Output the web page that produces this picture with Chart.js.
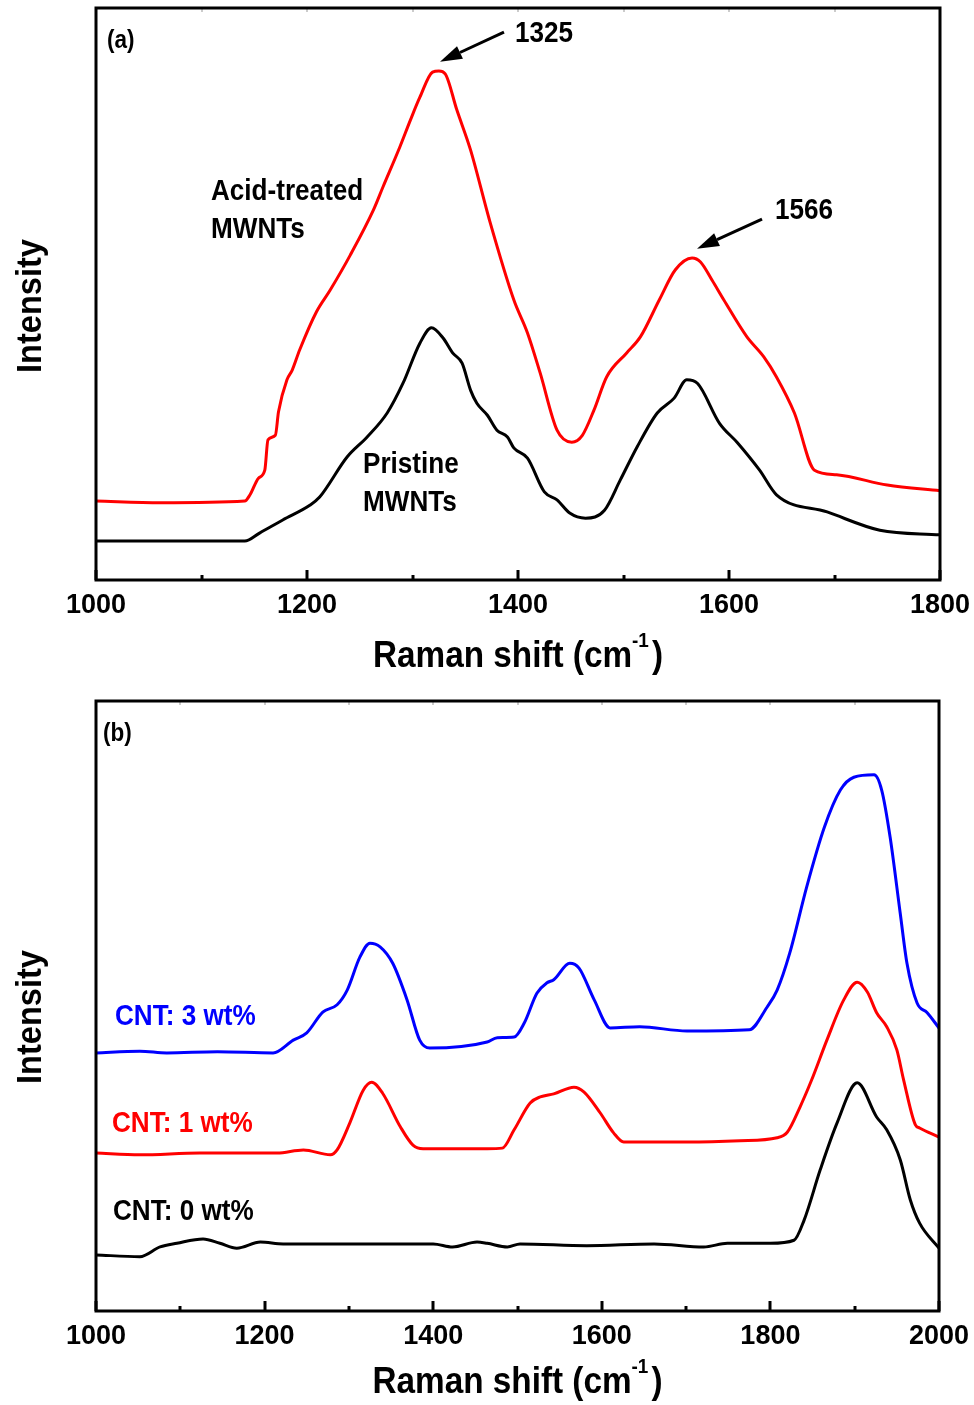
<!DOCTYPE html>
<html>
<head>
<meta charset="utf-8">
<title>Raman spectra</title>
<script src="https://cdn.jsdelivr.net/npm/chart.js@4.4.1/dist/chart.umd.min.js"></script>
<style>
    html, body { margin: 0; padding: 0; background: #fff; }
    #wrap { position: relative; width: 974px; height: 1405px; }
    canvas { position: absolute; left: 0; }
    #chartA { top: 0; }
    #chartB { top: 680px; }
</style>
</head>
<body>
<div id="wrap">
    <canvas id="chartA" width="974" height="680"></canvas>
    <canvas id="chartB" width="974" height="725"></canvas>
</div>
<script>
// ---- panel (a): MWNTs, Raman shift (cm-1) vs intensity (arb. units, 0-100 of the frame)
const aAcidX = [1000, 1061, 1141, 1146, 1154, 1160, 1163, 1170, 1173, 1181, 1186, 1193, 1209, 1222, 1241, 1263, 1272, 1288, 1298, 1307,
    1319, 1325, 1331, 1342, 1355, 1373, 1396, 1409, 1421, 1437, 1451, 1461, 1472, 1484, 1503, 1516, 1534, 1549, 1565, 1573,
    1584, 1595, 1617, 1633, 1645, 1662, 1681, 1702, 1750, 1800];
const aAcidY = [13.8, 13.5, 13.8, 14.9, 17.8, 19.2, 24.5, 25.3, 29.4, 35.0, 36.7, 40.2, 46.9, 50.7, 56.8, 64.7, 68.7, 75.7, 80.4, 84.4,
    88.8, 89.0, 88.5, 82.2, 75.2, 62.9, 49.0, 43.2, 36.2, 26.2, 24.1, 25.3, 29.7, 35.5, 39.7, 42.5, 49.0, 54.2, 56.3, 55.6,
    52.4, 49.0, 42.5, 39.0, 35.5, 29.2, 19.2, 18.4, 16.6, 15.6];

const aPristineX = [1000, 1141, 1155, 1177, 1203, 1212, 1238, 1257, 1276, 1291, 1307, 1318, 1329, 1338, 1347, 1355, 1361, 1371, 1380, 1390,
    1396, 1409, 1425, 1437, 1449, 1464, 1482, 1497, 1513, 1532, 1548, 1560, 1570, 1591, 1608, 1629, 1645, 1693, 1743, 1800];
const aPristineY = [6.8, 6.8, 8.2, 10.5, 13.1, 14.5, 21.5, 25.0, 29.2, 34.4, 41.4, 44.1, 42.3, 39.7, 37.9, 33.2, 30.9, 28.8, 26.2, 25.0,
    23.1, 21.3, 15.4, 14.0, 11.7, 10.8, 12.2, 17.5, 23.3, 29.2, 31.8, 35.0, 34.4, 27.4, 24.0, 19.2, 14.9, 11.9, 8.7, 7.9];

// ---- panel (b): composites with 0 / 1 / 3 wt% CNT
const bCnt3X = [1000, 1052, 1084, 1144, 1210, 1234, 1250, 1269, 1286, 1298, 1313, 1325, 1337, 1352, 1369, 1384, 1396, 1464, 1476, 1496,
    1508, 1523, 1535, 1543, 1562, 1573, 1591, 1610, 1645, 1701, 1775, 1796, 1808, 1823, 1843, 1864, 1883, 1899, 1923, 1932,
    1942, 1954, 1962, 1974, 1986, 2000];
const bCnt3Y = [42.3, 42.6, 42.3, 42.5, 42.3, 44.4, 45.6, 49.0, 50.2, 52.6, 58.0, 60.3, 59.7, 57.0, 51.0, 44.4, 43.1, 44.1, 44.8, 44.9,
    47.2, 52.1, 53.8, 54.3, 57.0, 56.2, 51.0, 46.4, 46.6, 45.9, 46.1, 49.8, 52.6, 58.7, 69.5, 79.3, 85.4, 87.5, 87.9, 85.4,
    77.7, 65.2, 57.0, 50.5, 48.9, 46.4];

const bCnt1X = [1000, 1052, 1123, 1215, 1246, 1278, 1286, 1301, 1317, 1327, 1340, 1361, 1376, 1388, 1464, 1482, 1496, 1515, 1527, 1543,
    1567, 1579, 1598, 1614, 1626, 1701, 1764, 1808, 1820, 1835, 1849, 1867, 1887, 1903, 1915, 1926, 1938, 1950, 1958, 1972,
    1977, 2000];
const bCnt1Y = [25.9, 25.6, 25.9, 25.9, 26.4, 25.6, 26.4, 30.8, 36.2, 37.5, 35.7, 30.2, 27.2, 26.6, 26.6, 26.7, 29.7, 34.1, 35.1, 35.6,
    36.7, 35.9, 32.5, 29.2, 27.7, 27.7, 27.9, 28.4, 29.3, 33.4, 37.9, 44.4, 51.0, 53.9, 52.3, 48.9, 46.6, 42.8, 37.9, 30.5,
    30.0, 28.5];

const bCnt0X = [1000, 1052, 1076, 1096, 1127, 1147, 1167, 1195, 1222, 1281, 1400, 1423, 1452, 1464, 1488, 1503, 1582, 1662, 1721, 1749,
    1800, 1828, 1840, 1859, 1879, 1903, 1926, 1938, 1954, 1966, 1977, 2000];
const bCnt0Y = [9.2, 8.9, 10.5, 11.1, 11.8, 11.1, 10.3, 11.3, 11.0, 11.0, 11.0, 10.5, 11.3, 11.1, 10.5, 11.0, 10.7, 11.0, 10.5, 11.1,
    11.1, 11.6, 14.9, 23.1, 30.8, 37.4, 31.8, 29.7, 24.8, 18.2, 14.4, 10.3];

const FONT = '"Liberation Sans", Arial, Helvetica, sans-serif';

function toPoints(xs, ys) {
    return xs.map((x, i) => ({ x: x, y: ys[i] }));
}

function line(label, xs, ys, color) {
    return {
        label: label,
        data: toPoints(xs, ys),
        borderColor: color,
        borderWidth: 3,
        pointRadius: 0,
        fill: false,
        cubicInterpolationMode: 'monotone',
        borderJoinStyle: 'round',
        borderCapStyle: 'round'
    };
}

function measure(ctx, text, size) {
    ctx.save();
    ctx.font = 'bold ' + size + 'px ' + FONT;
    const w = ctx.measureText(text).width;
    ctx.restore();
    return w;
}

// narrow-ish bold text: the figure uses a condensed Arial
function narrowText(ctx, text, x, y, size, sx) {
    ctx.save();
    ctx.font = 'bold ' + size + 'px ' + FONT;
    ctx.translate(x, y);
    ctx.scale(sx, 1);
    ctx.fillText(text, 0, 0);
    ctx.restore();
}

// frame, inward ticks, axis titles and annotations
const panelDecor = {
    id: 'panelDecor',
    afterDraw(chart, args, o) {
        const ctx = chart.ctx;
        const a = chart.chartArea;
        const xs = chart.scales.x;
        const ys = chart.scales.y;
        ctx.save();

        for (let v = xs.min; v <= xs.max; v += o.minorStep) {
            const px = Math.round(xs.getPixelForValue(v));
            const major = (v - xs.min) % o.majorStep === 0;
            ctx.strokeStyle = '#000';
            ctx.lineWidth = 3;
            ctx.beginPath();
            ctx.moveTo(px, a.bottom);
            ctx.lineTo(px, a.bottom - (major ? 10 : 5));
            ctx.stroke();
            ctx.strokeStyle = '#999';
            ctx.lineWidth = 1;
            ctx.beginPath();
            ctx.moveTo(px, a.top);
            ctx.lineTo(px, a.top + 4);
            ctx.stroke();
        }

        ctx.strokeStyle = '#000';
        ctx.lineWidth = 3;
        ctx.strokeRect(a.left, a.top, a.right - a.left, a.bottom - a.top);

        ctx.fillStyle = '#000';
        ctx.textAlign = 'left';
        ctx.textBaseline = 'alphabetic';

        // y title (rotated)
        ctx.save();
        ctx.translate(o.yTitle[0], o.yTitle[1]);
        ctx.rotate(-Math.PI / 2);
        ctx.scale(0.93, 1);
        ctx.font = 'bold 35px ' + FONT;
        ctx.textAlign = 'center';
        ctx.textBaseline = 'middle';
        ctx.fillText('Intensity', 0, 0);
        ctx.restore();

        // x title with superscript
        const sx = 0.9;
        const main = 'Raman shift (cm', sup = '-1', close = ')';
        const w1 = sx * measure(ctx, main, 37);
        const w2 = sx * measure(ctx, sup, 21) + 3;
        const w3 = sx * measure(ctx, close, 37);
        const x0 = (a.left + a.right) / 2 - (w1 + w2 + w3) / 2;
        narrowText(ctx, main, x0, o.xTitleY, 37, sx);
        narrowText(ctx, sup, x0 + w1, o.xTitleY - 20, 21, sx);
        narrowText(ctx, close, x0 + w1 + w2, o.xTitleY, 37, sx);

        // text labels
        (o.labels || []).forEach(l => {
            ctx.fillStyle = l.color || '#000';
            narrowText(ctx, l.text, l.x, l.y, l.size || 29, 0.9);
        });

        // arrows, placed in data coordinates
        ctx.fillStyle = '#000';
        ctx.strokeStyle = '#000';
        (o.arrows || []).forEach(ar => {
            const x1 = xs.getPixelForValue(ar.from[0]), y1 = ys.getPixelForValue(ar.from[1]);
            const x2 = xs.getPixelForValue(ar.to[0]), y2 = ys.getPixelForValue(ar.to[1]);
            const ang = Math.atan2(y2 - y1, x2 - x1);
            const head = 22, half = 7;
            const bx = x2 - head * Math.cos(ang), by = y2 - head * Math.sin(ang);
            ctx.lineWidth = 3;
            ctx.beginPath();
            ctx.moveTo(x1, y1);
            ctx.lineTo(bx, by);
            ctx.stroke();
            ctx.beginPath();
            ctx.moveTo(x2, y2);
            ctx.lineTo(bx + half * Math.sin(ang), by - half * Math.cos(ang));
            ctx.lineTo(bx - half * Math.sin(ang), by + half * Math.cos(ang));
            ctx.closePath();
            ctx.fill();
        });

        ctx.restore();
    }
};

function makeOptions(cfg) {
    return {
        responsive: false,
        animation: false,
        layout: { padding: { top: cfg.padTop, right: cfg.padRight, left: 0, bottom: 0 } },
        plugins: {
            legend: { display: false },
            tooltip: { enabled: false },
            panelDecor: cfg.decor
        },
        scales: {
            x: {
                type: 'linear',
                min: cfg.xMin,
                max: cfg.xMax,
                ticks: {
                    stepSize: 200,
                    autoSkip: false,
                    maxRotation: 0,
                    padding: 9,
                    color: '#000',
                    font: { family: FONT, size: 27, weight: 'bold' },
                    callback: (v) => String(v)
                },
                grid: { display: false, drawTicks: false },
                border: { display: false },
                afterFit(s) {
                    s.height = cfg.xHeight;
                    s.paddingLeft = 0;
                    s.paddingRight = 0;
                }
            },
            y: {
                min: 0,
                max: 100,
                ticks: { display: false },
                grid: { display: false, drawTicks: false },
                border: { display: false },
                afterFit(s) { s.width = 96; }
            }
        }
    };
}

new Chart(document.getElementById('chartA'), {
    type: 'line',
    plugins: [panelDecor],
    data: {
        datasets: [
            line('Pristine MWNTs', aPristineX, aPristineY, '#000000'),
            line('Acid-treated MWNTs', aAcidX, aAcidY, '#ff0000')
        ]
    },
    options: makeOptions({
        padTop: 8, padRight: 34, xHeight: 100, xMin: 1000, xMax: 1800,
        decor: {
            minorStep: 100, majorStep: 200,
            yTitle: [31, 306], xTitleY: 667,
            labels: [
                { text: '(a)', x: 107, y: 48, size: 25 },
                { text: '1325', x: 515, y: 42 },
                { text: '1566', x: 775, y: 219 },
                { text: 'Acid-treated', x: 211, y: 200 },
                { text: 'MWNTs', x: 211, y: 238 },
                { text: 'Pristine', x: 363, y: 473 },
                { text: 'MWNTs', x: 363, y: 511 }
            ],
            arrows: [
                { from: [1386.7, 95.8], to: [1326.1, 90.6] },
                { from: [1631.3, 63.1], to: [1569.7, 57.9] }
            ]
        }
    })
});

new Chart(document.getElementById('chartB'), {
    type: 'line',
    plugins: [panelDecor],
    data: {
        datasets: [
            line('CNT: 0 wt%', bCnt0X, bCnt0Y, '#000000'),
            line('CNT: 1 wt%', bCnt1X, bCnt1Y, '#ff0000'),
            line('CNT: 3 wt%', bCnt3X, bCnt3Y, '#0000ff')
        ]
    },
    options: makeOptions({
        padTop: 21, padRight: 35, xHeight: 94, xMin: 1000, xMax: 2000,
        decor: {
            minorStep: 100, majorStep: 200,
            yTitle: [31, 337], xTitleY: 713,
            labels: [
                { text: '(b)', x: 103, y: 61, size: 25 },
                { text: 'CNT: 3 wt%', x: 115, y: 345, color: '#0000ff' },
                { text: 'CNT: 1 wt%', x: 112, y: 452, color: '#ff0000' },
                { text: 'CNT: 0 wt%', x: 113, y: 540, color: '#000000' }
            ]
        }
    })
});
</script>
</body>
</html>
